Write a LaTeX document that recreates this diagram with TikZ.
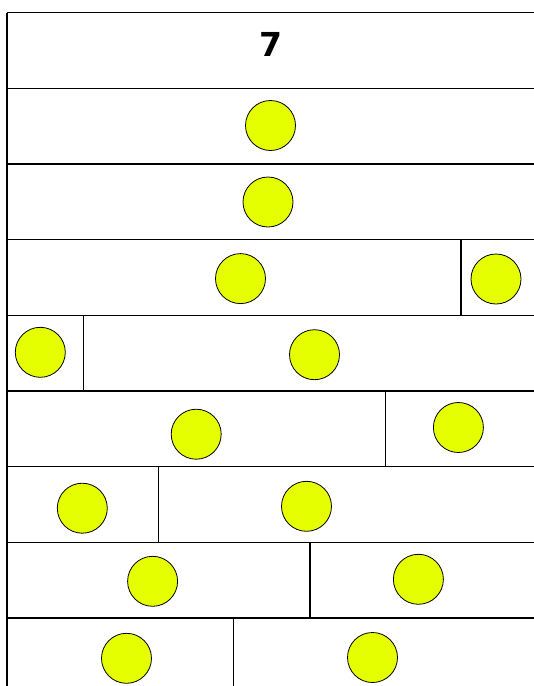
\documentclass[tikz,border=0pt]{standalone}
\usepackage{fontspec}
\setmainfont{DejaVu Sans}
\usepackage{tikz}
\definecolor{ballyellow}{RGB}{229,255,0}
\tikzset{
  ball/.style={circle,draw,fill=ballyellow,line width=0.8pt,minimum size=50pt,inner sep=0pt},
  rowline/.style={line width=1.3pt}
}

\begin{document}
\begin{tikzpicture}[x=1pt,y=-1pt]
  \useasboundingbox (0,0) rectangle (534,686);
  % frame: left edge and row separators (right side cut off)
  \draw[rowline] (7,12.5) -- (7,686);
  \foreach \yr in {12.5,88.2,163.9,239.6,315.3,391,466.7,542.4,618.1}
    \draw[rowline] (7,\yr) -- (534,\yr);
  % title row
  \node[font=\bfseries\fontsize{33}{33}\selectfont] (title) at (270.5,44) {7};
  % dividers inside the rows
  \foreach \xd/\ya/\yb in {461/239.6/315.3, 83.4/315.3/391, 385.6/391/466.7,
                           158.4/466.7/542.4, 310/542.4/618.1, 233.6/618.1/686}
    \draw[rowline] (\xd,\ya) -- (\xd,\yb);
  % balls, row by row
  \foreach \xc/\yc/\nm in {270.5/125.5/b1, 268/202/b2,
                           240.5/278.6/b3l, 496/279/b3r,
                           40.3/352.3/b4l, 314.5/354.7/b4r,
                           196.2/434.2/b5l, 458.4/427.5/b5r,
                           82.3/508.2/b6l, 306.5/506.3/b6r,
                           152.6/581.3/b7l, 418.4/579.3/b7r,
                           126.5/658.3/b8l, 372.5/657.5/b8r}
    \node[ball] (\nm) at (\xc,\yc) {};
\end{tikzpicture}
\end{document}
